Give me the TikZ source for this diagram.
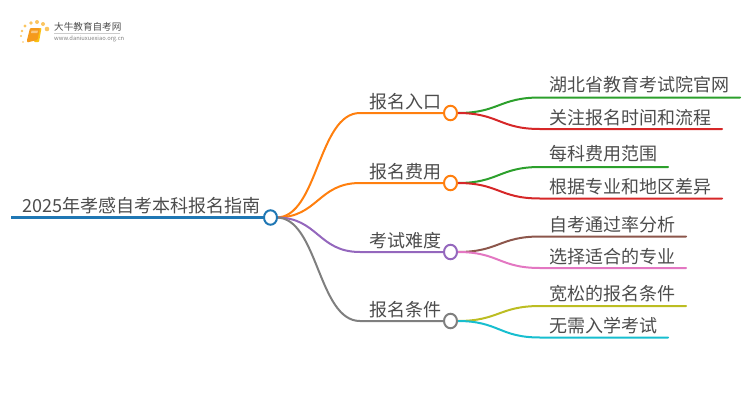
\documentclass[tikz,border=0pt]{standalone}
\usepackage{fontspec}
\usetikzlibrary{shapes.geometric}
\setmainfont{Noto Sans CJK SC}
\definecolor{cblue}{HTML}{1F77B4}
\definecolor{corange}{HTML}{FF7F0E}
\definecolor{cgreen}{HTML}{2CA02C}
\definecolor{cred}{HTML}{D62728}
\definecolor{cpurple}{HTML}{9467BD}
\definecolor{cbrown}{HTML}{8C564B}
\definecolor{cpink}{HTML}{E377C2}
\definecolor{cgray}{HTML}{7F7F7F}
\definecolor{colive}{HTML}{BCBD22}
\definecolor{ccyan}{HTML}{17BECF}
\definecolor{ctext}{HTML}{4C4C4C}
\definecolor{cbook}{HTML}{F59A1C}
\definecolor{cdot}{HTML}{FBC560}
\tikzset{
  x=1pt,y=-1pt,
  hub/.style={ellipse,draw=#1,line width=2pt,fill=white,minimum width=13pt,minimum height=14.5pt,inner sep=0pt},
  lbl/.style={anchor=base west,inner sep=0pt,text=ctext,font=\fontsize{18}{20}\selectfont},
  wire/.style={line width=2pt,draw=#1,line cap=round},
  dot/.style={circle,fill=cdot,inner sep=0pt,minimum size=#1}
}
\begin{document}
\begin{tikzpicture}
\useasboundingbox (0,0) rectangle (750,410);
% anchors
\coordinate (rootstart) at (11,217.5);
\coordinate (rootc) at (270.5,217.5);
\foreach \n/\y in {a/113,b/183,c/252,d/321}{
  \coordinate (\n e) at (360,\y);
  \coordinate (\n c) at (450.5,\y);
}
% root line
\draw[wire=cblue,line width=2.6pt,line cap=butt] (rootstart) -- (rootc);
% level one
\foreach \n/\y/\col in {a/113/corange,b/183/corange,c/252/cpurple,d/321/cgray}{
  \draw[wire=\col] (rootc) ++(6,0) .. controls (318,217.5) and (318,\y) .. (\n e) -- (\n c);
}
% leaves
\foreach \s/\m/\y/\yy/\xe/\col in {
  a/a1/113/97.5/740/cgreen, a/a2/113/129/722/cred,
  b/b1/183/167/668/cgreen, b/b2/183/198.5/722/cred,
  c/c1/252/236.5/686/cbrown, c/c2/252/268/686/cpink,
  d/d1/321/306/686/colive, d/d2/321/337.5/668/ccyan}{
  \coordinate (\m s) at (540,\yy);
  \coordinate (\m t) at (\xe,\yy);
  \draw[wire=\col] (\s c) ++(7,0) .. controls (499,\y) and (499,\yy) .. (\m s) -- (\m t);
}
% hubs
\node[hub=cblue] (root) at (rootc) {};
\node[hub=corange] (a) at (ac) {};
\node[hub=corange] (b) at (bc) {};
\node[hub=cpurple] (c) at (cc) {};
\node[hub=cgray] (d) at (dc) {};
% labels
\node[lbl] (troot) at (22,212) {2025年孝感自考本科报名指南};
\node[lbl] (ta) at (369,108) {报名入口};
\node[lbl] (tb) at (369,178) {报名费用};
\node[lbl] (tc) at (369,247) {考试难度};
\node[lbl] (td) at (369,316) {报名条件};
\node[lbl] (ta1) at (549,91) {湖北省教育考试院官网};
\node[lbl] (ta2) at (549,124) {关注报名时间和流程};
\node[lbl] (tb1) at (549,160) {每科费用范围};
\node[lbl] (tb2) at (549,193) {根据专业和地区差异};
\node[lbl] (tc1) at (549,231) {自考通过率分析};
\node[lbl] (tc2) at (549,263) {选择适合的专业};
\node[lbl] (td1) at (549,300) {宽松的报名条件};
\node[lbl] (td2) at (549,332) {无需入学考试};
% logo
\foreach \i/\x/\y/\s in {l1/23/42/1.8pt,l2/21/36/2.2pt,l3/22/31/2.6pt,l4/25/26/3.4pt,l5/31/23/3.8pt,l6/37/22/4pt,l7/43/24/4pt,l8/47/29/4.6pt}{
  \node[dot=\s] (\i) at (\x,\y) {};
}
\fill[cbook!60!yellow,rounded corners=.8pt] (37,28) -- (41.5,28) -- (39,42) -- (34,42) -- cycle;
\fill[cbook,rounded corners=1pt] (30,28) -- (40,28) -- (37.5,40) -- (27,42.5) -- (27,40) -- cycle;
\fill[cbook!55!white] (31.5,30.5) -- (38,30.5) -- (37.4,33) -- (31,33) -- cycle;
\node[anchor=base west,inner sep=0pt,text=ctext,font=\fontsize{9.6}{10}\selectfont] (logot) at (54,30.3) {大牛教育自考网};
\draw[gray!40,line width=.5pt] (54,33.5) -- (120,33.5);
\node[anchor=base west,inner sep=0pt,text=gray,font=\fontsize{5.8}{6}\selectfont] (logou) at (54,40.8) {www.daniuxuexiao.org.cn};
\end{tikzpicture}
\end{document}
